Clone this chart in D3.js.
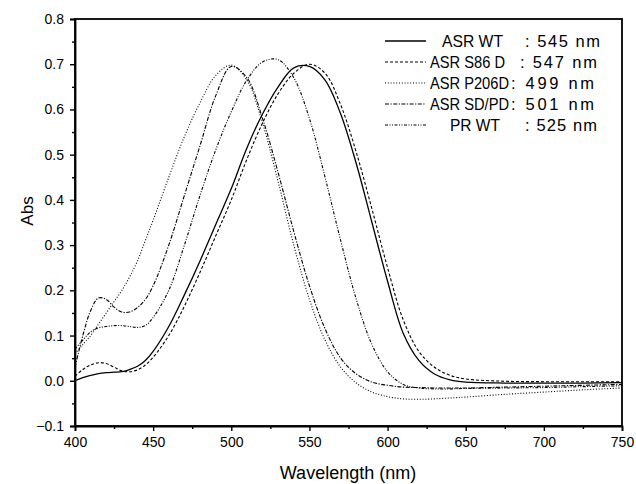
<!DOCTYPE html>
<html>
<head>
<meta charset="utf-8">
<script src="https://cdn.jsdelivr.net/npm/d3@7"></script>
<style>
  html, body { margin: 0; padding: 0; background: #fff; }
  svg text { font-family: "Liberation Sans", Arial, sans-serif; fill: #000; }
</style>
</head>
<body>
<svg id="chart" width="636" height="484"></svg>
<script>
// ---- data ----
const wavelengths = [400,405,410,415,420,425,430,435,440,445,450,460,470,480,490,500,510,520,530,540,550,560,570,580,590,600,610,620,630,640,650,675,700,725,750];
const asrWT   = [0.0,0.007,0.012,0.016,0.018,0.019,0.02,0.025,0.032,0.045,0.065,0.12,0.19,0.265,0.345,0.425,0.515,0.59,0.65,0.692,0.695,0.665,0.59,0.48,0.35,0.22,0.105,0.045,0.015,0.002,-0.003,-0.005,-0.005,-0.005,-0.004];
const asrS86D = [0.01,0.025,0.035,0.04,0.038,0.03,0.022,0.02,0.024,0.035,0.052,0.1,0.165,0.24,0.32,0.4,0.49,0.57,0.635,0.68,0.70,0.68,0.61,0.505,0.38,0.25,0.135,0.065,0.03,0.012,0.004,-0.001,-0.002,-0.002,-0.002];
const asrP206D = [0.06,0.08,0.1,0.125,0.15,0.175,0.2,0.23,0.265,0.31,0.355,0.45,0.54,0.615,0.675,0.698,0.665,0.57,0.44,0.3,0.18,0.09,0.03,-0.005,-0.025,-0.035,-0.04,-0.041,-0.04,-0.038,-0.036,-0.03,-0.025,-0.02,-0.016];
const asrSDPD = [0.03,0.1,0.155,0.183,0.18,0.163,0.152,0.152,0.162,0.18,0.21,0.3,0.41,0.52,0.63,0.695,0.67,0.58,0.46,0.33,0.21,0.115,0.05,0.015,-0.003,-0.01,-0.014,-0.015,-0.016,-0.016,-0.016,-0.014,-0.012,-0.01,-0.008];
const prWT    = [0.07,0.09,0.108,0.117,0.12,0.122,0.122,0.12,0.118,0.122,0.14,0.2,0.3,0.41,0.51,0.595,0.665,0.705,0.71,0.67,0.58,0.45,0.31,0.18,0.08,0.02,-0.008,-0.016,-0.018,-0.018,-0.017,-0.016,-0.015,-0.013,-0.011];

const seriesNames = ["ASR WT", "ASR S86 D", "ASR P206D", "ASR SD/PD", "PR WT"];
const seriesPeaks = [": 545 nm", ": 547 nm", ": 499 nm", ": 501 nm", ": 525 nm"];
const seriesValues = [asrWT, asrS86D, asrP206D, asrSDPD, prWT];
const xTicks = [400,450,500,550,600,650,700,750];
const yTicks = [-0.1,0.0,0.1,0.2,0.3,0.4,0.5,0.6,0.7,0.8];

// ---- styles ----
const dashes = [null, "3,2", "1,1.8", "4,1.5,1.2,1.5", "3,1.5,1,1.5,1,1.5"];
const widths = [1.3, 1.1, 1.1, 1.1, 1.1];

const svg = d3.select("#chart");
svg.append("rect").attr("width",636).attr("height",484).attr("fill","#fff");

const L = 75, R = 622, T = 19, B = 426;
const x = d3.scaleLinear().domain([400,750]).range([L,R]);
const y = d3.scaleLinear().domain([-0.1,0.8]).range([B,T]);

const plot = svg.append("g");
const line = d3.line().x(d => x(d[0])).y(d => y(d[1])).curve(d3.curveCatmullRom.alpha(0.5));

seriesValues.forEach((vals, i) => {
  const pts = wavelengths.map((w, j) => [w, vals[j]]);
  plot.append("path")
    .attr("d", line(pts))
    .attr("fill","none")
    .attr("stroke","#000")
    .attr("stroke-width", widths[i])
    .attr("stroke-dasharray", dashes[i]);
});

// frame
svg.append("rect").attr("x",L).attr("y",T).attr("width",R-L).attr("height",B-T)
  .attr("fill","none").attr("stroke","#000").attr("stroke-width",1.8);

// x axis
svg.append("g").attr("transform",`translate(0,${B})`)
  .call(d3.axisBottom(x).tickValues(xTicks).tickFormat(d3.format("d")).tickSize(5).tickPadding(6));
svg.append("g").attr("transform",`translate(0,${B})`)
  .call(d3.axisBottom(x).tickValues(d3.range(425,750,50)).tickFormat("").tickSize(3))
  .call(g => g.select(".domain").remove());
// y axis
svg.append("g").attr("transform",`translate(${L},0)`)
  .call(d3.axisLeft(y).tickValues(yTicks).tickFormat(d3.format(".1f")).tickSize(5).tickPadding(6));
svg.append("g").attr("transform",`translate(${L},0)`)
  .call(d3.axisLeft(y).tickValues(d3.range(-0.05,0.8,0.1)).tickFormat("").tickSize(3))
  .call(g => g.select(".domain").remove());

svg.selectAll(".tick line").attr("stroke","#000").attr("stroke-width",1.4);
svg.selectAll(".domain").attr("stroke","#000").attr("stroke-width",1.8);
svg.selectAll(".tick text").attr("font-size","14px").attr("font-family","Liberation Sans, Arial, sans-serif");

// axis labels
svg.append("text").attr("x",348).attr("y",479).attr("text-anchor","middle")
  .attr("font-size","18px").text("Wavelength (nm)");
svg.append("text").attr("transform","translate(33,211) rotate(-90)").attr("text-anchor","middle")
  .attr("font-size","17px").text("Abs");

// legend
const legY = [41, 62, 83, 104, 125];
const nameX = [442, 430, 430, 430, 450];
const nameW = [61, 75, 79, 79, 50];
const peakX = [525, 520, 511, 511, 525];
const peakW = [75, 77, 83, 83, 72];
const leg = svg.append("g");
seriesNames.forEach((n, i) => {
  leg.append("line").attr("x1",385).attr("x2",426).attr("y1",legY[i]).attr("y2",legY[i])
    .attr("stroke","#000").attr("stroke-width",widths[i]).attr("stroke-dasharray",dashes[i]);
  leg.append("text").attr("x",nameX[i]).attr("y",legY[i]+6).attr("font-size","16.5px")
    .attr("textLength",nameW[i]).attr("lengthAdjust","spacingAndGlyphs").text(n);
  leg.append("text").attr("x",peakX[i]).attr("y",legY[i]+6).attr("font-size","16.5px")
    .attr("textLength",peakW[i]).attr("lengthAdjust","spacing").text(seriesPeaks[i]);
});
</script>
</body>
</html>
